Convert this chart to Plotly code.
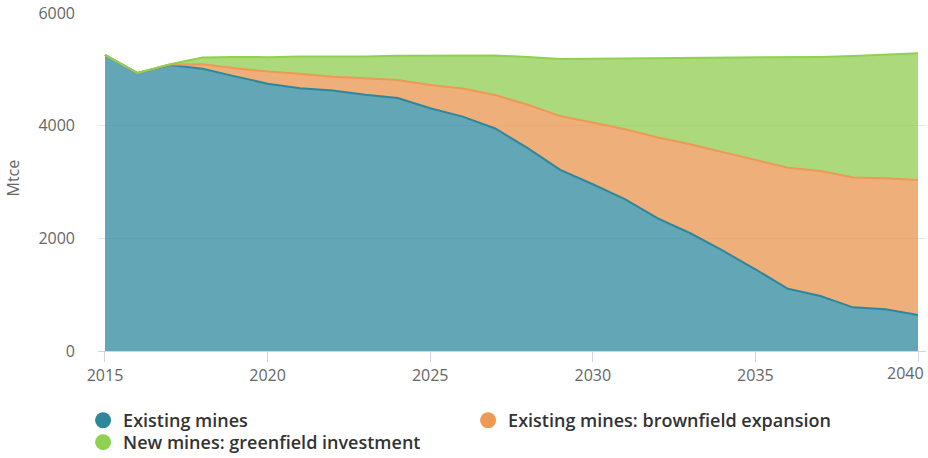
import plotly.graph_objects as go

# Coal supply by mine type, Mtce
years = list(range(2015, 2041))
existing_mines = [5255, 4935, 5075, 5010, 4875, 4745, 4665, 4625, 4550, 4490,
                  4310, 4160, 3950, 3600, 3215, 2960, 2690, 2355, 2090, 1780,
                  1450, 1105, 975, 775, 740, 640]
brownfield_expansion = [0, 0, 10, 80, 145, 215, 255, 245, 290, 320,
                        410, 500, 595, 770, 955, 1090, 1245, 1435, 1580, 1750,
                        1940, 2150, 2220, 2305, 2325, 2395]
greenfield_investment = [0, 0, 5, 120, 200, 255, 310, 355, 390, 430,
                         525, 590, 700, 850, 1015, 1140, 1260, 1405, 1530, 1675,
                         1815, 1955, 2025, 2155, 2200, 2250]

series_names = ["Existing mines", "Existing mines: brownfield expansion",
                "New mines: greenfield investment"]
series_values = [existing_mines, brownfield_expansion, greenfield_investment]
base_colors = [(47, 136, 156), (232, 148, 79), (144, 204, 80)]
line_colors = ["#2f879c", "#ec9a55", "#8fd14f"]
legend_rows = ["legend", "legend", "legend2"]

y_ticks = [0, 2000, 4000, 6000]
x_ticks = [2015, 2020, 2025, 2030, 2035, 2040]
# the last year label is drawn right-aligned at the edge so it is not clipped
x_tick_text = [str(v) for v in x_ticks[:-1]] + [""]

FONT = "Open Sans, Noto Sans, sans-serif"
LEGEND_FONT = dict(family=FONT, size=18, color="#333333", weight=600)
TICK_FONT = dict(family=FONT, size=16, color="#666666")

fig = go.Figure()

for name, vals, rgb, lc in zip(series_names, series_values, base_colors, line_colors):
    fig.add_trace(go.Scatter(
        x=years, y=vals, name=name, mode="lines",
        stackgroup="supply",
        line=dict(color=lc, width=2),
        fillcolor="rgba(%d,%d,%d,0.75)" % rgb,
        showlegend=False,
        hovertemplate="%{x}: %{y} Mtce<extra>" + name + "</extra>",
    ))

# Round legend markers
for name, lc, lg in zip(series_names, line_colors, legend_rows):
    fig.add_trace(go.Scatter(
        x=[None], y=[None], name=name, mode="markers",
        marker=dict(color=lc, size=17, symbol="circle"),
        showlegend=True, legend=lg,
    ))

legend_common = dict(
    orientation="h", traceorder="normal",
    xanchor="left", yanchor="top",
    entrywidth=340, entrywidthmode="pixels",
    font=LEGEND_FONT,
    itemclick=False, itemdoubleclick=False,
    bgcolor="rgba(0,0,0,0)",
)

fig.update_layout(
    width=928, height=458,
    margin=dict(l=98, r=2, t=13, b=107, autoexpand=False),
    paper_bgcolor="white", plot_bgcolor="white",
    font=dict(family=FONT, color="#666666", size=16),
    showlegend=True,
    legend=dict(x=-0.018, y=-0.151, **legend_common),
    legend2=dict(x=-0.018, y=-0.216, **legend_common),
    xaxis=dict(
        range=[2014.785, 2040.246],
        tickvals=x_ticks,
        ticktext=x_tick_text,
        automargin=False,
        showgrid=False,
        showline=True, linecolor="#ccd6eb", linewidth=1,
        ticks="outside", ticklen=10, tickcolor="#ccd6eb", tickwidth=1,
        tickfont=TICK_FONT,
        zeroline=False,
        fixedrange=True,
    ),
    yaxis=dict(
        range=[0, 6000],
        tickvals=y_ticks,
        ticktext=[str(v) for v in y_ticks],
        automargin=False,
        showgrid=True, gridcolor="#e6e6e6", gridwidth=1,
        showline=False, zeroline=False,
        ticks="", ticklabelstandoff=22,
        tickfont=TICK_FONT,
        fixedrange=True,
    ),
    annotations=[
        dict(
            text="Mtce", textangle=-90,
            xref="paper", yref="paper",
            x=(12.5 - 98) / 828, y=(351 - 178) / 338,
            xanchor="center", yanchor="middle",
            showarrow=False,
            font=dict(family=FONT, size=16, color="#666666"),
        ),
        dict(
            text=str(x_ticks[-1]),
            xref="x", yref="paper",
            x=x_ticks[-1], y=-(373 - 351) / 338,
            xanchor="right", yanchor="middle", xshift=8,
            showarrow=False,
            font=TICK_FONT,
        ),
    ],
)

fig.write_html("out.html")
